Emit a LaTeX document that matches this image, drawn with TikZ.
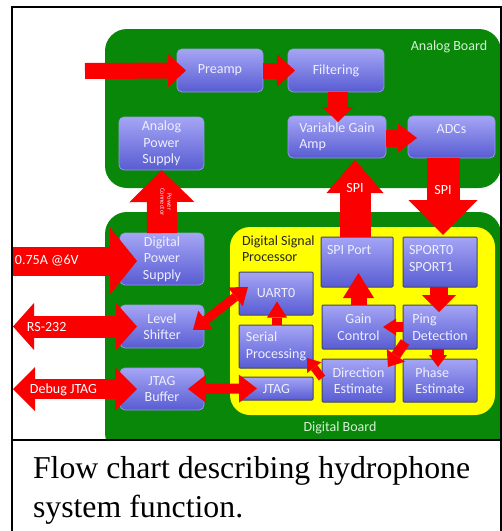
\documentclass[tikz,border=0pt]{standalone}
\usepackage{fontspec}
\setmainfont{Carlito}
\newfontfamily\capfont{Liberation Serif}
\usetikzlibrary{arrows.meta}
\definecolor{brdgreen}{RGB}{8,135,8}
\definecolor{dspyellow}{RGB}{255,255,0}
\definecolor{boxtop}{RGB}{165,165,245}
\definecolor{boxbot}{RGB}{88,92,210}
\definecolor{boxtext}{RGB}{238,238,255}
\definecolor{arrred}{RGB}{250,0,0}
\definecolor{boardtext}{RGB}{215,240,215}
\definecolor{dspedge}{RGB}{70,70,100}
\definecolor{glowedge}{RGB}{150,150,235}
\definecolor{dsptext}{RGB}{40,40,30}
\begin{document}
\begin{tikzpicture}[x=1pt,y=-1pt,
  every node/.style={inner sep=0pt, outer sep=0pt},
  lbl/.style={font=\fontsize{14}{16.5}\selectfont},
  blockbox/.style={rectangle, top color=boxtop, bottom color=boxbot, text=boxtext, lbl},
  boardbox/.style={blockbox, rounded corners=5pt, draw=glowedge, line width=0.8pt},
  dspbox/.style={blockbox, rounded corners=1pt, draw=dspedge, line width=1pt},
  onearrow/.style n args={3}{draw=arrred, line width=#1,
     arrows={-Triangle[width=#2,length=#3,line width=0pt]}},
  twoarrow/.style n args={3}{draw=arrred, line width=#1,
     arrows={Triangle[width=#2,length=#3,line width=0pt]-Triangle[width=#2,length=#3,line width=0pt]}},
  arrtext/.style={lbl, text=white}]
\useasboundingbox (0,0) rectangle (502,531);
% boards
\fill[brdgreen, rounded corners=22pt] (105,29) rectangle (501,188);
\fill[brdgreen, rounded corners=22pt] (105,212) rectangle (501,455);
\fill[white] (13,441) rectangle (500,531);
\fill[dspyellow, rounded corners=20pt] (230,227) rectangle (495,415);
% analog board boxes
\node[boardbox, minimum width=86pt, minimum height=43pt] (pre) at (220,70.5) {Preamp};
\node[boardbox, minimum width=96pt, minimum height=43pt] (fil) at (336,70.5) {Filtering};
\node[boardbox, minimum width=98pt, minimum height=42pt, align=left] (vga) at (337,137) {Variable Gain\\Amp};
\node[boardbox, minimum width=87pt, minimum height=42pt, align=center] (adc) at (451.5,137) {ADCs\\~};
\node[boardbox, minimum width=85pt, minimum height=53pt, align=center] (aps) at (161.5,143.5) {Analog\\Power\\Supply};
% digital board boxes
\node[boardbox, minimum width=84pt, minimum height=52pt, align=center] (dps) at (162,259) {Digital\\Power\\Supply};
\node[boardbox, minimum width=84pt, minimum height=43pt, align=center] (ls) at (162,326.5) {Level\\Shifter};
\node[boardbox, minimum width=84pt, minimum height=42pt, align=center] (jb) at (162,389) {JTAG\\Buffer};
% DSP boxes
\node[dspbox, minimum width=72pt, minimum height=50pt] (spip) at (357,262) {};
\node[dspbox, minimum width=74pt, minimum height=50pt] (sport) at (440,262) {};
\node[dspbox, minimum width=74pt, minimum height=43pt] (uart) at (276,293.5) {UART0};
\node[dspbox, minimum width=74pt, minimum height=43pt, align=left] (ser) at (276,346.5) {Serial\\Processing};
\node[dspbox, minimum width=73pt, minimum height=23pt] (jt) at (276.5,388.5) {JTAG};
\node[dspbox, minimum width=73pt, minimum height=44pt, align=center] (gain) at (358.5,327) {Gain\\Control};
\node[dspbox, minimum width=74pt, minimum height=44pt, align=left] (ping) at (440,327) {Ping\\Detection};
\node[dspbox, minimum width=73pt, minimum height=43pt, align=center] (dir) at (358.5,380.5) {Direction\\Estimate};
\node[dspbox, minimum width=74pt, minimum height=43pt, align=left] (phase) at (440,380.5) {Phase\\Estimate};
\node[lbl, text=boxtext, anchor=west] (spipt) at (327,250) {SPI Port};
\node[lbl, text=boxtext, anchor=west, align=left] (sportt) at (409,258.5) {SPORT0\\SPORT1};
% arrows analog
\coordinate (inA) at (85,71);
\draw[onearrow={16pt}{33pt}{18pt}] (inA) -- ([xshift=9pt]pre.west);
\draw[onearrow={16pt}{33pt}{18pt}] (pre.east) -- ([xshift=7pt]fil.west);
\draw[onearrow={20pt}{31pt}{15pt}] ([xshift=2pt]fil.south) -- ([xshift=1pt,yshift=-6pt]vga.north);
\draw[onearrow={17pt}{29pt}{19pt}] ([yshift=-1pt]vga.east) -- ([xshift=9pt,yshift=-1pt]adc.west);
\draw[onearrow={31pt}{57pt}{33pt}] ([xshift=-2pt]spip.north) -- ([xshift=18pt,yshift=-2pt]vga.south);
\draw[onearrow={33pt}{69pt}{35pt}] ([xshift=-8.5pt]adc.south) -- ([xshift=3pt,yshift=2pt]sport.north);
\draw[onearrow={30pt}{65pt}{32pt}] (dps.north) -- (aps.south);
\node[arrtext] (spiA) at (355,188) {SPI};
\node[arrtext] (spiB) at (443,190) {SPI};
\node[font=\fontsize{6.5}{7}\selectfont, text=boxtext, rotate=-90, align=center] (pc) at (166,202) {Power\\Connector};
% external arrows
\coordinate (inP) at (12,261);
\draw[onearrow={29pt}{67pt}{27pt}] (inP) -- ([xshift=17pt,yshift=-2pt]dps.west);
\coordinate (rsL) at (13,326.5);
\draw[twoarrow={22pt}{47pt}{21pt}] (rsL) -- ([xshift=17pt]ls.west);
\coordinate (dbL) at (13,389);
\draw[twoarrow={20pt}{44pt}{22pt}] (dbL) -- ([xshift=17pt]jb.west);
\node[arrtext, anchor=west] (pwrt) at (15,261) {0.75A @6V};
\node[arrtext, anchor=west] (rst) at (27,327) {RS-232};
\node[arrtext, anchor=west] (dbt) at (30,390) {Debug JTAG};
% digital board arrows
\draw[twoarrow={10pt}{28pt}{18pt}] ([xshift=-16pt]jb.east) -- ([xshift=17pt]jt.west);
\draw[twoarrow={9pt}{24pt}{16pt}] ([xshift=-11pt,yshift=-3.5pt]ls.east) -- ([xshift=9pt,yshift=6.5pt]uart.west);
\draw[onearrow={16pt}{31pt}{25pt}] (gain.north) -- ([xshift=1.5pt,yshift=14pt]spip.south);
\draw[onearrow={18pt}{34pt}{17pt}] ([xshift=-1pt]sport.south) -- ([xshift=-1pt,yshift=-7pt]ping.north);
\draw[onearrow={10pt}{17pt}{13pt}] (ping.west) -- ([xshift=-12pt]gain.east);
\draw[onearrow={10pt}{22pt}{14pt}] ([xshift=2pt,yshift=7pt]ping.south west) -- ([xshift=-7pt,yshift=-8pt]dir.north east);
\draw[onearrow={12pt}{18pt}{12pt}] ([xshift=-2pt]ping.south) -- ([xshift=-2pt,yshift=-8pt]phase.north);
\draw[onearrow={8pt}{18pt}{12pt}] ([yshift=2.5pt]dir.west) -- ([xshift=-6pt,yshift=10pt]ser.south east);
\draw[onearrow={10pt}{20pt}{16pt}] ([xshift=1pt]ser.north) -- ([xshift=1pt,yshift=13.5pt]uart.south);
% labels
\node[lbl, text=boardtext] (ab) at (449,47) {Analog Board};
\node[lbl, text=boardtext] (db) at (340,428) {Digital Board};
\node[lbl, text=dsptext, align=left, anchor=west] (dspl) at (242,248.5) {Digital Signal\\Processor};
% frame
\draw[line width=2pt] (12,531) -- (12,7) -- (500.5,7) -- (500.5,531);
\draw[line width=2pt] (12,440) -- (500.5,440);
% caption
\node[font=\capfont\fontsize{31.8}{39}\selectfont, anchor=base west] (cap1) at (33,478) {Flow chart describing hydrophone};
\node[font=\capfont\fontsize{31.8}{39}\selectfont, anchor=base west] (cap2) at (33,517) {system function.};
\end{tikzpicture}
\end{document}
